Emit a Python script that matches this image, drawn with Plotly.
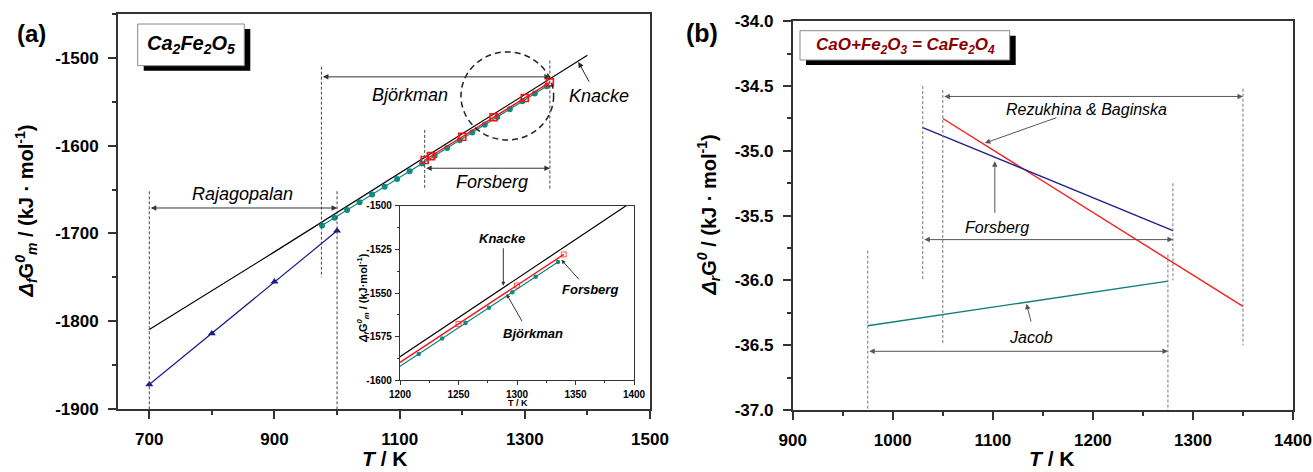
import plotly.graph_objects as go

W, H = 1313, 472

# ---------------- data: panel (a) ----------------
knacke_T = [700, 900, 1200, 1400]
knacke_G = [-1809.5, -1721.0, -1586.5, -1497.0]

bjork_T = [976, 996, 1016, 1036, 1056, 1076, 1096, 1116, 1136, 1156,
           1176, 1196, 1216, 1236, 1256, 1276, 1296, 1316, 1335]
bjork_G = [-1691.0, -1682.1, -1673.3, -1664.5, -1655.6, -1646.8, -1637.9,
           -1629.1, -1620.3, -1611.4, -1602.6, -1593.7, -1584.9, -1576.1,
           -1567.2, -1558.4, -1549.5, -1540.7, -1532.3]

fors_T = [1140, 1150, 1200, 1250, 1300, 1340]
fors_G = [-1616.3, -1611.9, -1589.8, -1567.7, -1545.7, -1527.9]

raja_T = [700, 800, 900, 1000]
raja_G = [-1872.0, -1814.0, -1755.0, -1697.0]

# ---------------- data: panel (b) ----------------
rez_T = [1050, 1350]
rez_G = [-34.75, -36.20]
forsb_T = [1030, 1280]
forsb_G = [-34.82, -35.615]
jacob_T = [975, 1275]
jacob_G = [-36.35, -36.005]

# tick labels
xa_ticks = [700, 900, 1100, 1300, 1500]
ya_ticks = [-1900, -1800, -1700, -1600, -1500]
xb_ticks = [900, 1000, 1100, 1200, 1300, 1400]
yb_ticks = [-37.0, -36.5, -36.0, -35.5, -35.0, -34.5, -34.0]
xi_ticks = [1200, 1250, 1300, 1350, 1400]
yi_ticks = [-1600, -1575, -1550, -1525, -1500]

FONT = "Liberation Sans, Arial, sans-serif"
AX = "#333333"


def px(x):
    return x / W


def py(y):
    return 1 - y / H


fig = go.Figure()

# panel (a)
fig.add_trace(go.Scatter(x=knacke_T, y=knacke_G, mode="lines",
                         line=dict(color="black", width=1.2), xaxis="x", yaxis="y"))
fig.add_trace(go.Scatter(x=bjork_T, y=bjork_G, mode="lines+markers",
                         line=dict(color="#0f8a84", width=1.2),
                         marker=dict(symbol="circle", size=6, color="#0f8a84"),
                         xaxis="x", yaxis="y"))
fig.add_trace(go.Scatter(x=fors_T, y=fors_G, mode="lines+markers",
                         line=dict(color="#ff1010", width=1.4),
                         marker=dict(symbol="square-open", size=7, color="#ff1010",
                                     line=dict(width=1.6)),
                         xaxis="x", yaxis="y"))
fig.add_trace(go.Scatter(x=raja_T, y=raja_G, mode="lines+markers",
                         line=dict(color="#1a1a8c", width=1.2),
                         marker=dict(symbol="triangle-up", size=7, color="#1a1a8c"),
                         xaxis="x", yaxis="y"))

# inset
fig.add_trace(go.Scatter(x=knacke_T, y=knacke_G, mode="lines",
                         line=dict(color="black", width=1.2), xaxis="x3", yaxis="y3"))
fig.add_trace(go.Scatter(x=bjork_T, y=bjork_G, mode="lines+markers",
                         line=dict(color="#0f8a84", width=1.2),
                         marker=dict(symbol="circle", size=4.5, color="#0f8a84"),
                         xaxis="x3", yaxis="y3"))
fig.add_trace(go.Scatter(x=fors_T, y=fors_G, mode="lines+markers",
                         line=dict(color="#ff1010", width=1.4),
                         marker=dict(symbol="square-open",
                                     size=[0 if t <= 1200 else 5 for t in fors_T],
                                     color="#ff1010", line=dict(width=1)),
                         xaxis="x3", yaxis="y3"))

# panel (b)
fig.add_trace(go.Scatter(x=rez_T, y=rez_G, mode="lines",
                         line=dict(color="#ff1a1a", width=1.4), xaxis="x2", yaxis="y2"))
fig.add_trace(go.Scatter(x=forsb_T, y=forsb_G, mode="lines",
                         line=dict(color="#1f1f8a", width=1.4), xaxis="x2", yaxis="y2"))
fig.add_trace(go.Scatter(x=jacob_T, y=jacob_G, mode="lines",
                         line=dict(color="#0f7f7a", width=1.4), xaxis="x2", yaxis="y2"))


def axis(domain, rng, ticks, fmt, anchor, minor_dtick, size=17, ticklen=8, lw=1.8, standoff=6):
    return dict(domain=domain, range=rng, anchor=anchor, automargin=False,
                tickmode="array", tickvals=ticks, ticktext=[fmt.format(t) for t in ticks],
                showline=True, linecolor=AX, linewidth=lw, mirror=True,
                ticks="outside", ticklen=ticklen, tickwidth=lw, tickcolor=AX,
                minor=dict(tickmode="linear", tick0=ticks[0], dtick=minor_dtick,
                           ticklen=ticklen / 2, tickwidth=lw, tickcolor=AX, ticks="outside"),
                showgrid=False, zeroline=False, ticklabelstandoff=standoff,
                tickfont=dict(family=FONT, size=size, color="black", weight="bold"))


layout = dict(
    template="none",
    width=W, height=H, margin=dict(l=0, r=0, t=0, b=0, pad=0, autoexpand=False),
    paper_bgcolor="white", plot_bgcolor="white", showlegend=False,
    xaxis=axis([px(118), px(650)], [650, 1500], xa_ticks, "{:d}", "y", 100),
    yaxis=axis([py(409), py(14)], [-1900, -1450], ya_ticks, "{:d}", "x", 50),
    xaxis2=axis([px(792.7), px(1293)], [900, 1400], xb_ticks, "{:d}", "y2", 50),
    yaxis2=axis([py(410), py(21.3)], [-37, -34], yb_ticks, "{:.1f}", "x2", 0.25),
    xaxis3=axis([px(400), px(634)], [1200, 1400], xi_ticks, "{:d}", "y3", 25,
                size=10, ticklen=4, lw=1.2, standoff=1),
    yaxis3=axis([py(380.3), py(205.7)], [-1600, -1500], yi_ticks, "{:d}", "x3", 12.5,
                size=10, ticklen=4, lw=1.2, standoff=1),
)
fig.update_layout(**layout)

shapes = []
ann = []

# dashed range lines, panel (a)
for (t, y0, y1) in [(700, -1652, -1900), (1000, -1652, -1900), (975, -1510, -1750),
                    (1140, -1582, -1650), (1340, -1503, -1650)]:
    shapes.append(dict(type="line", xref="x", yref="y", x0=t, x1=t, y0=y0, y1=y1,
                       line=dict(color="#444", width=1, dash="3px,2px")))
shapes.append(dict(type="circle", xref="x", yref="y", x0=1198, x1=1346, y0=-1593.5, y1=-1493.2,
                   line=dict(color="#222", width=1.5, dash="6px,4px")))

# dashed range lines, panel (b)
for (t, y0, y1) in [(975, -35.77, -37.0), (1030, -34.5, -36.0), (1050, -34.53, -36.5),
                    (1275, -35.8, -37.0), (1280, -35.25, -36.0), (1350, -34.52, -36.5)]:
    shapes.append(dict(type="line", xref="x2", yref="y2", x0=t, x1=t, y0=y0, y1=y1,
                       line=dict(color="#777", width=1, dash="3px,2px")))

# label boxes
for (x0, y0, x1, y1) in [(137.7, 24, 244.3, 65.7), (800, 30.7, 1009.7, 60)]:
    shapes.append(dict(type="rect", xref="paper", yref="paper",
                       x0=px(x0 + 6), x1=px(x1 + 6), y0=py(y0 + 5), y1=py(y1 + 5),
                       fillcolor="black", line=dict(width=0)))
    shapes.append(dict(type="rect", xref="paper", yref="paper",
                       x0=px(x0), x1=px(x1), y0=py(y0), y1=py(y1),
                       fillcolor="white", line=dict(color="#888", width=1)))


def text(x, y, s, xref, yref, size, color="black", bold=False, italic=True):
    ann.append(dict(x=x, y=y, xref=xref, yref=yref, text=("<i>%s</i>" % s) if italic else s,
                    showarrow=False, xanchor="center", yanchor="middle",
                    font=dict(family=FONT, size=size, color=color,
                              weight="bold" if bold else "normal")))


def arrow(x0, y0, x1, y1, xr, yr, color, both=False, size=1.1):
    ann.append(dict(x=x1, y=y1, ax=x0, ay=y0, xref=xr, yref=yr, axref=xr, ayref=yr,
                    text="", showarrow=True, arrowhead=2, arrowsize=size, arrowwidth=1,
                    arrowcolor=color, arrowside="end+start" if both else "end",
                    standoff=0, startstandoff=0, startarrowhead=2, startarrowsize=size))


# panel (a) texts and arrows
text(1116, -1542.5, "Björkman", "x", "y", 18)
text(1419, -1543, "Knacke", "x", "y", 18)
text(1247, -1641, "Forsberg", "x", "y", 18)
text(849, -1655, "Rajagopalan", "x", "y", 18)
arrow(975, -1521.6, 1340, -1521.6, "x", "y", "#333", both=True)
arrow(1140, -1625.7, 1340, -1625.7, "x", "y", "#333", both=True)
arrow(700, -1671, 1000, -1671, "x", "y", "#333", both=True)
arrow(1404, -1528.8, 1385.6, -1504.8, "x", "y", "#222")

# inset texts and arrows
text(1287, -1519, "Knacke", "x3", "y3", 13, bold=True)
text(1362, -1548, "Forsberg", "x3", "y3", 13, bold=True)
text(1314, -1573, "Björkman", "x3", "y3", 13, bold=True)
arrow(1288.3, -1523.5, 1288.3, -1545.8, "x3", "y3", "#333", size=0.8)
arrow(1354, -1543, 1338, -1531, "x3", "y3", "#333", size=0.8)
arrow(1305, -1567, 1291, -1550.6, "x3", "y3", "#333", size=0.8)

# panel (b) texts and arrows
text(1193.6, -34.68, "Rezukhina &amp; Baginska", "x2", "y2", 16)
text(1104, -35.59, "Forsberg", "x2", "y2", 16)
text(1138.6, -36.44, "Jacob", "x2", "y2", 16)
arrow(1165, -34.74, 1092, -34.94, "x2", "y2", "#555")
arrow(1102, -35.49, 1102, -35.08, "x2", "y2", "#555")
arrow(1138.6, -36.33, 1133.6, -36.18, "x2", "y2", "#555")
arrow(1050, -34.58, 1350, -34.58, "x2", "y2", "#555", both=True)
arrow(1030, -35.685, 1280, -35.685, "x2", "y2", "#555", both=True)
arrow(975, -36.547, 1275, -36.547, "x2", "y2", "#555", both=True)

# panel labels, boxes' text, axis titles
text(px(31), py(33), "(a)", "paper", "paper", 24, bold=True, italic=False)
text(px(702), py(33), "(b)", "paper", "paper", 25, bold=True, italic=False)
text(px(191), py(45), "Ca<sub>2</sub>Fe<sub>2</sub>O<sub>5</sub>", "paper", "paper", 20, bold=True)
text(px(905), py(46), "CaO+Fe<sub>2</sub>O<sub>3</sub> = CaFe<sub>2</sub>O<sub>4</sub>",
     "paper", "paper", 17, color="#8b0000", bold=True)
text(px(385), py(458), "<i>T</i> / K", "paper", "paper", 21, bold=True, italic=False)
text(px(1052), py(458), "<i>T</i> / K", "paper", "paper", 21, bold=True, italic=False)
text(px(517.7), py(403), "T / K", "paper", "paper", 9, bold=True, italic=False)

for (x, y, s, size) in [
    (26, 211.5, "<i>Δ<sub>f</sub></i>G<i><sup>0</sup><sub>m</sub></i> / (kJ · mol<sup>-1</sup>)", 20),
    (709, 215.6, "<i>Δ<sub>r</sub></i>G<i><sup>0</sup></i> / (kJ · mol<sup>-1</sup>)", 20),
    (363, 298, "<i>Δ<sub>f</sub></i>G<i><sup>0</sup><sub>m</sub></i> / (kJ·mol<sup>-1</sup>)", 11),
]:
    ann.append(dict(x=px(x), y=py(y), xref="paper", yref="paper", text=s, textangle=-90,
                    showarrow=False, xanchor="center", yanchor="middle",
                    font=dict(family=FONT, size=size, color="black", weight="bold")))

fig.update_layout(shapes=shapes, annotations=ann)
fig.write_html("out.html")
